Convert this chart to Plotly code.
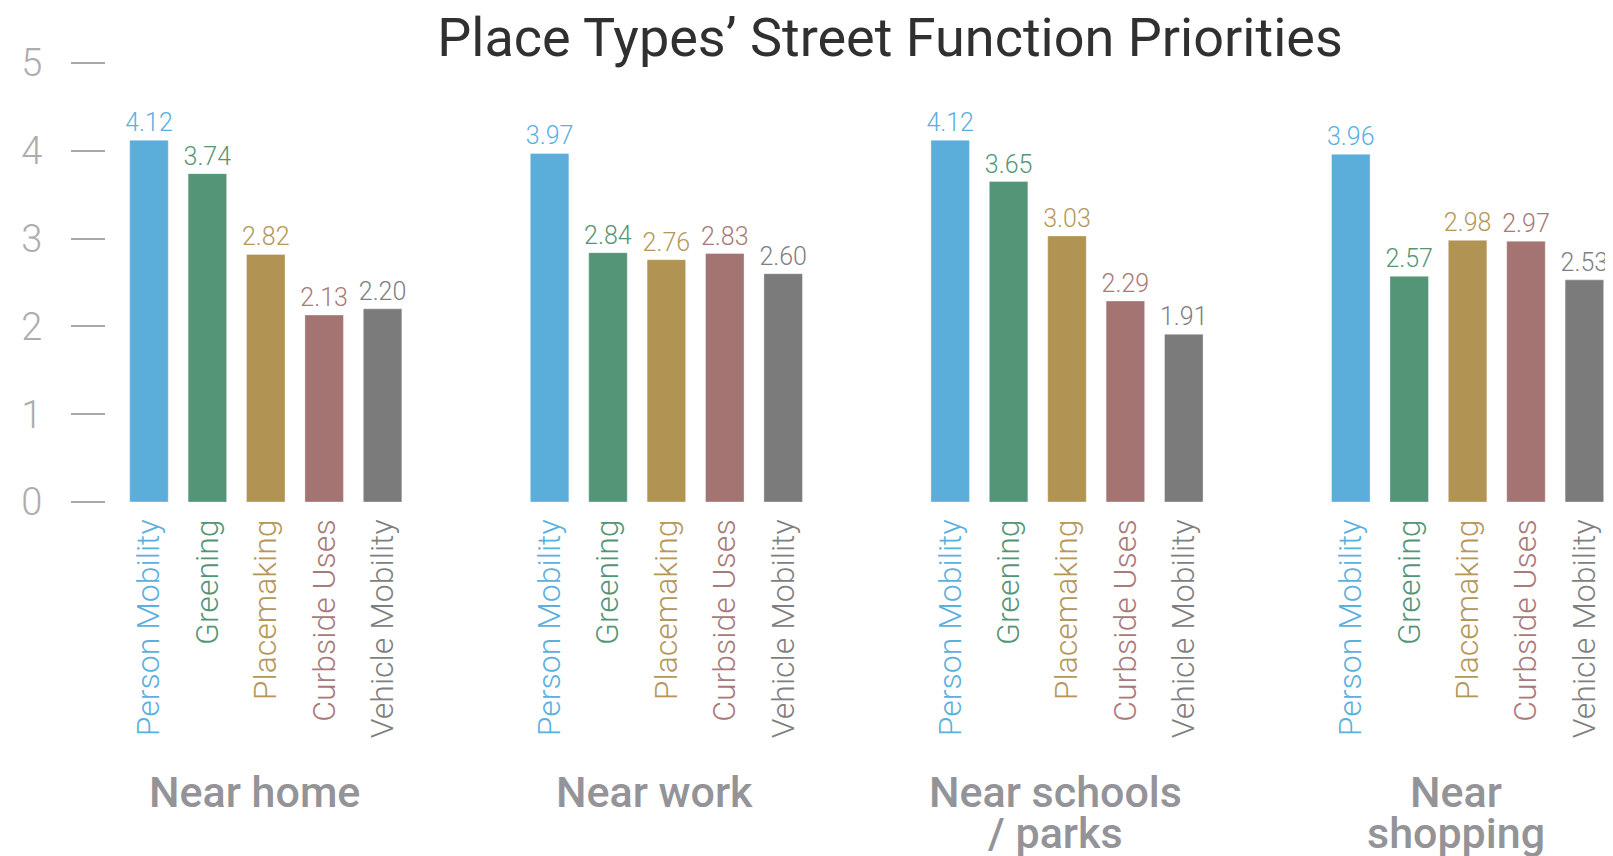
import plotly.graph_objects as go

# ---- data ----
groups = ["Near home", "Near work", "Near schools<br>/ parks", "Near<br>shopping"]
categories = ["Person Mobility", "Greening", "Placemaking", "Curbside Uses", "Vehicle Mobility"]
person_mobility = [4.12, 3.97, 4.12, 3.96]
greening = [3.74, 2.84, 3.65, 2.57]
placemaking = [2.82, 2.76, 3.03, 2.98]
curbside_uses = [2.13, 2.83, 2.29, 2.97]
vehicle_mobility = [2.20, 2.60, 1.91, 2.53]
y_ticks = [0, 1, 2, 3, 4, 5]
title = "Place Types’ Street Function Priorities"

series = [person_mobility, greening, placemaking, curbside_uses, vehicle_mobility]
colors = ["#5aaed9", "#559577", "#b19353", "#a47473", "#7b7b7b"]
text_colors = ["#5ab0df", "#559577", "#b5975a", "#a87a79", "#7f7f7f"]

GROUP_STEP = 6.86
FONT = "Roboto"
OFF = 8  # browser body margin compensation
W, H = 1613 - OFF, 856 - OFF

fig = go.Figure()
tickvals, ticktext = [], []
for ci, (cat, vals) in enumerate(zip(categories, series)):
    xs = [g * GROUP_STEP + ci for g in range(len(groups))]
    fig.add_trace(go.Bar(
        x=xs, y=vals, width=0.66,
        marker=dict(color=colors[ci], line=dict(color="rgba(255,255,255,0.35)", width=1)),
        texttemplate="%{y:.2f}", textposition="outside", constraintext="none",
        textfont=dict(family=FONT, size=25, color=text_colors[ci], weight=300),
        cliponaxis=False, showlegend=False, hoverinfo="skip",
    ))
    for x in xs:
        tickvals.append(x)
        ticktext.append(f'<span style="color:{text_colors[ci]}">{cat}</span>')

# group labels (one annotation per line, tight line spacing)
for g, lab in enumerate(groups):
    cx = g * GROUP_STEP + 2 - 0.2
    for li, line in enumerate(lab.split("<br>")):
        fig.add_annotation(
            x=cx, xref="x", y=0, yref="y", yshift=-(290 + 41 * li), yanchor="middle",
            text=line, showarrow=False,
            font=dict(family=FONT, size=43, color="#939398", weight=500),
        )

fig.update_layout(
    width=W, height=H,
    margin=dict(l=106 - OFF, r=0, t=63 - OFF, b=354),
    paper_bgcolor="white", plot_bgcolor="white",
    barmode="overlay",
    title=dict(text=title, x=(890 - OFF) / W, xref="container", xanchor="center",
               y=1 - (37 - OFF) / H, yref="container", yanchor="middle",
               font=dict(family=FONT, size=54, color="#303030", weight=400)),
    xaxis=dict(range=[-0.736, 25.07], tickvals=tickvals, ticktext=ticktext, tickangle=-90,
               showgrid=False, zeroline=False, showline=False, ticks="",
               tickfont=dict(family=FONT, size=32, weight=300), ticklabelstandoff=10),
    yaxis=dict(range=[0, 5], tickvals=y_ticks, ticks="outside", ticklen=34, tickwidth=2,
               tickcolor="#a8a8a8", showgrid=False, zeroline=False, showline=False,
               tickfont=dict(family=FONT, size=38, color="#adadad", weight=300),
               ticklabelstandoff=21),
)

fig.write_html("out.html")
